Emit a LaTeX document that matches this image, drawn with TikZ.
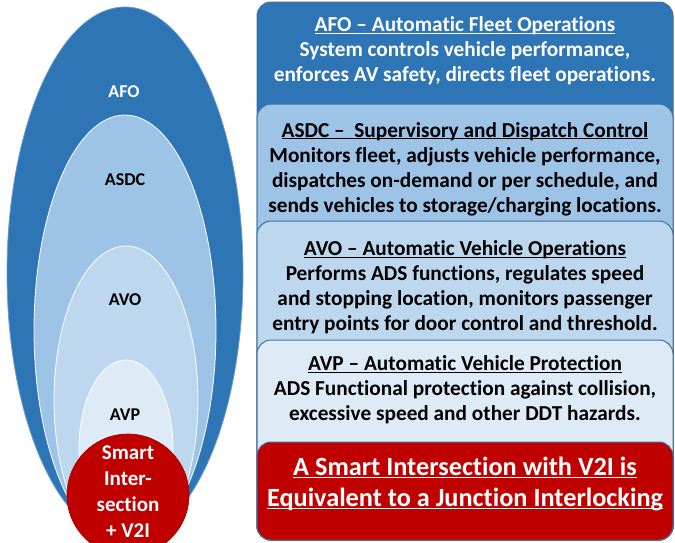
\documentclass[tikz,border=0pt]{standalone}
\usepackage{fontspec}
\setmainfont{Carlito}[Ligatures={TeX,CommonOff}]

\definecolor{afoblue}{HTML}{2E75B6}
\definecolor{asdcblue}{HTML}{9DC3E6}
\definecolor{avoblue}{HTML}{BDD7EE}
\definecolor{avpblue}{HTML}{DEEBF7}
\definecolor{boxline}{HTML}{41719C}
\definecolor{v2ired}{HTML}{C00000}

% underline that ignores the descenders
\newcommand\uln[1]{\underline{\raisebox{0pt}[\height][0pt]{#1}}}

\begin{document}
\begin{tikzpicture}[x=1pt,y=-1pt,
  layer/.style={draw=white,line width=.8pt},
  box/.style={draw=boxline,line width=1pt,rounded corners=14pt},
  boxtext/.style={anchor=north,align=center,inner sep=0pt,font=\bfseries\fontsize{21.3}{25}\selectfont},
  tag/.style={inner sep=0pt,font=\bfseries\fontsize{18}{22}\selectfont}]
\useasboundingbox (0,0) rectangle (675,542);
\clip (0,0) rectangle (675,542);

% nested levels, left
\filldraw[fill=afoblue,draw=afoblue!70!white,line width=.8pt] (125,273) ellipse[x radius=118,y radius=266];
\filldraw[layer,fill=asdcblue] (125,330) ellipse[x radius=91,y radius=215];
\filldraw[layer,fill=avoblue] (126,400) ellipse[x radius=72,y radius=154];
\filldraw[layer,fill=avpblue] (126,448) ellipse[x radius=47,y radius=88];
\filldraw[fill=v2ired,draw=v2ired!80!black,line width=.6pt] (128,495) circle[radius=61];

\node[tag,white] (afo) at (124,92) {AFO};
\node[tag] (asdc) at (125,180) {ASDC};
\node[tag] (avo) at (125,300) {AVO};
\node[tag] (avp) at (125,415) {AVP};
\node[align=center,white,inner sep=0pt,font=\bfseries\fontsize{21}{26}\selectfont] (si) at (128,492)
  {Smart\\Inter-\\section\\+ V2I};

% description boxes, right
\draw[box,fill=afoblue] (257,2) rectangle (673,540);
\draw[box,fill=asdcblue] (257,104) rectangle (673,540);
\draw[box,fill=avoblue] (257,221) rectangle (673,540);
\draw[box,fill=avpblue] (257,340) rectangle (673,540);
\draw[box,fill=v2ired] (257,442) rectangle (673,540);

\node[boxtext,white] (afotext) at (465,16.5) {\uln{AFO -- Automatic Fleet Operations}\\
  System controls vehicle performance,\\ enforces AV safety, directs fleet operations.};
\node[boxtext] (asdctext) at (465,122) {\uln{ASDC --\ \ Supervisory and Dispatch Control}\\
  Monitors fleet, adjusts vehicle performance,\\ dispatches on-demand or per schedule, and\\
  sends vehicles to storage/charging locations.};
\node[boxtext] (avotext) at (465,240.5) {\uln{AVO -- Automatic Vehicle Operations}\\
  Performs ADS functions, regulates speed\\ and stopping location, monitors passenger\\
  entry points for door control and threshold.};
\node[boxtext] (avptext) at (465,355.5) {\uln{AVP -- Automatic Vehicle Protection}\\
  ADS Functional protection against collision,\\ excessive speed and other DDT hazards.};
\node[boxtext,white,font=\bfseries\fontsize{26.3}{31}\selectfont] (si2jlk) at (465,457)
  {\uln{A Smart Intersection with V2I is}\\ \uln{Equivalent to a Junction Interlocking}};
\end{tikzpicture}
\end{document}
